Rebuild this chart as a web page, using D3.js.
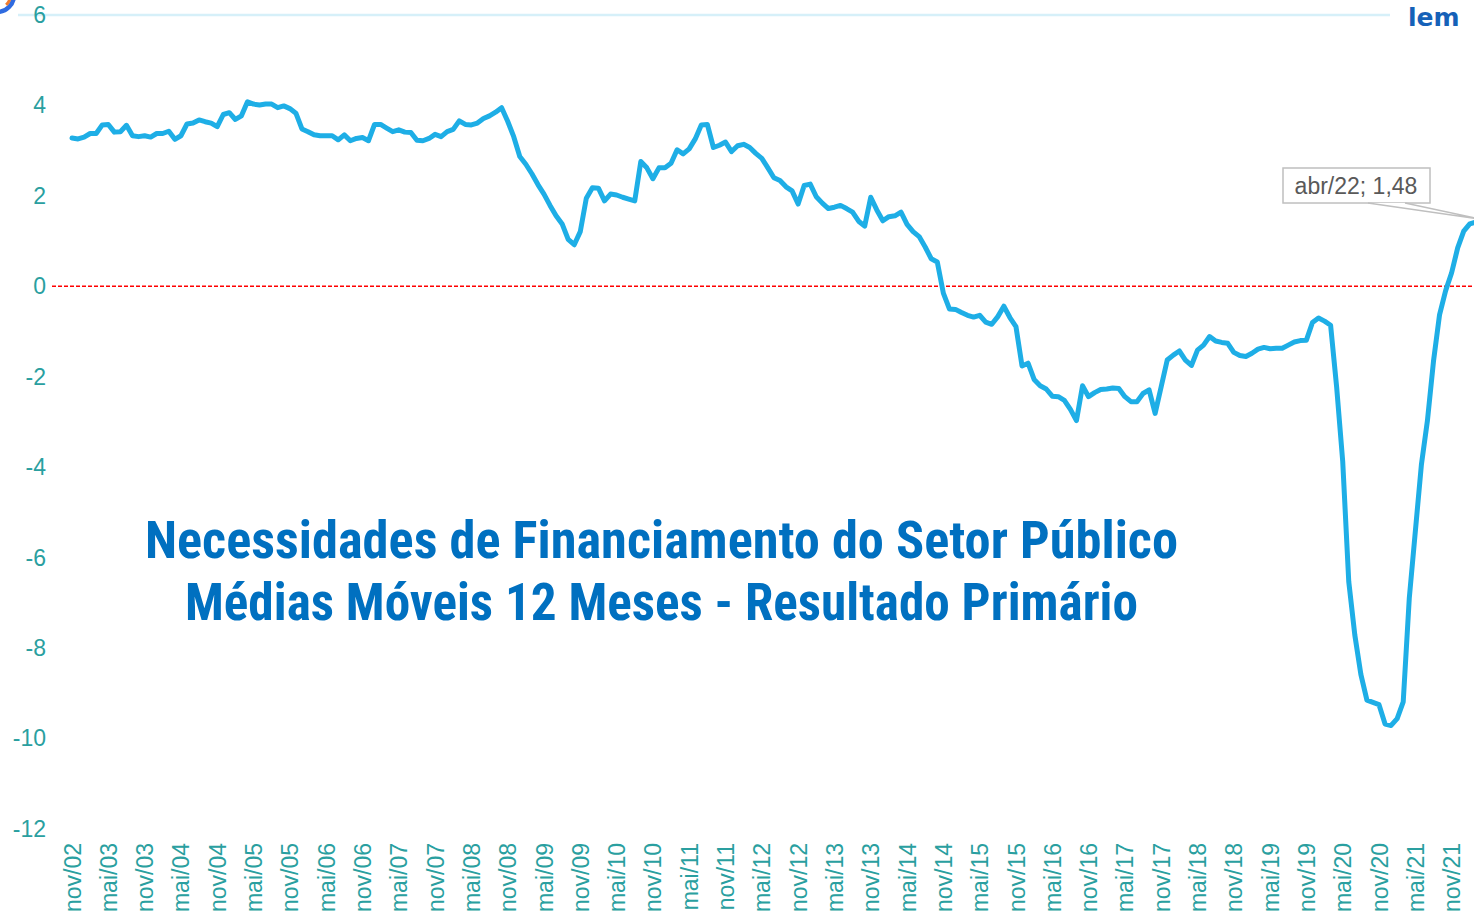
<!DOCTYPE html>
<html>
<head>
<meta charset="utf-8">
<script src="https://cdn.jsdelivr.net/npm/d3@7"></script>
<style>
  html, body { margin: 0; padding: 0; background: #fff; }
  svg { display: block; }
</style>
</head>
<body>
<div id="chart"></div>
<script>
// meses de nov/02 ate abr/22 (eixo de categorias)
const monthNames = ["jan", "fev", "mar", "abr", "mai", "jun", "jul", "ago", "set", "out", "nov", "dez"];
const categories = [];
for (let k = 0; k < 234; k++) {
    const m = (10 + k) % 12;
    const yr = 2 + Math.floor((10 + k) / 12);
    categories.push(monthNames[m] + "/" + String(yr).padStart(2, "0"));
}

// rotulos do eixo x, de 6 em 6 meses
const tickLabels = ["nov/02", "mai/03", "nov/03", "mai/04", "nov/04", "mai/05", "nov/05", "mai/06",
    "nov/06", "mai/07", "nov/07", "mai/08", "nov/08", "mai/09", "nov/09", "mai/10", "nov/10",
    "mai/11", "nov/11", "mai/12", "nov/12", "mai/13", "nov/13", "mai/14", "nov/14", "mai/15",
    "nov/15", "mai/16", "nov/16", "mai/17", "nov/17", "mai/18", "nov/18", "mai/19", "nov/19",
    "mai/20", "nov/20", "mai/21", "nov/21"];

const yTicks = [6, 4, 2, 0, -2, -4, -6, -8, -10, -12];

// resultado primario, media movel 12 meses
const primario = [
    3.28, 3.26, 3.30, 3.38, 3.38, 3.57, 3.58, 3.41, 3.42, 3.56,
    3.33, 3.31, 3.33, 3.30, 3.38, 3.38, 3.43, 3.25, 3.33, 3.59,
    3.61, 3.68, 3.64, 3.61, 3.53, 3.80, 3.84, 3.69, 3.77, 4.08,
    4.03, 4.01, 4.03, 4.03, 3.95, 3.99, 3.93, 3.83, 3.48, 3.42,
    3.35, 3.33, 3.33, 3.33, 3.24, 3.35, 3.22, 3.27, 3.29, 3.22,
    3.58, 3.58, 3.50, 3.42, 3.46, 3.41, 3.40, 3.23, 3.22, 3.27,
    3.36, 3.31, 3.42, 3.47, 3.66, 3.58, 3.57, 3.61, 3.71, 3.77,
    3.85, 3.95, 3.65, 3.31, 2.87, 2.70, 2.49, 2.25, 2.04, 1.79,
    1.56, 1.38, 1.04, 0.92, 1.21, 1.95, 2.18, 2.17, 1.89, 2.04,
    2.02, 1.97, 1.93, 1.89, 2.76, 2.62, 2.38, 2.62, 2.62, 2.72,
    3.02, 2.93, 3.04, 3.26, 3.57, 3.58, 3.07, 3.12, 3.19, 2.98,
    3.11, 3.14, 3.07, 2.94, 2.83, 2.62, 2.40, 2.34, 2.20, 2.11,
    1.82, 2.23, 2.26, 1.98, 1.84, 1.72, 1.75, 1.79, 1.72, 1.64,
    1.44, 1.33, 1.97, 1.69, 1.45, 1.54, 1.56, 1.64, 1.37, 1.21,
    1.10, 0.87, 0.61, 0.54, -0.15, -0.50, -0.51, -0.58, -0.64, -0.68,
    -0.64, -0.79, -0.84, -0.67, -0.44, -0.69, -0.89, -1.76, -1.70, -2.06,
    -2.20, -2.27, -2.43, -2.44, -2.52, -2.72, -2.97, -2.20, -2.44, -2.35,
    -2.28, -2.27, -2.25, -2.26, -2.44, -2.55, -2.55, -2.37, -2.29, -2.81,
    -2.22, -1.63, -1.52, -1.43, -1.63, -1.75, -1.41, -1.30, -1.11, -1.21,
    -1.24, -1.26, -1.46, -1.53, -1.55, -1.48, -1.39, -1.35, -1.38, -1.37,
    -1.37, -1.30, -1.23, -1.20, -1.19, -0.80, -0.70, -0.77, -0.86, -2.23,
    -3.87, -6.53, -7.71, -8.58, -9.15, -9.20, -9.25, -9.68, -9.71, -9.56,
    -9.19, -6.90, -5.42, -3.95, -2.97, -1.66, -0.63, -0.10, 0.30, 0.85,
    1.22, 1.38, 1.42, 1.48
];

const titleLines = ["Necessidades de Financiamento do Setor Público",
    "Médias Móveis 12 Meses - Resultado Primário"];

const svgWidth = 1474, svgHeight = 914;
const labelFont = "'Liberation Sans', Arial, sans-serif";
const teal = "#2a9fa0";

const svg = d3.select("#chart").append("svg")
    .attr("width", svgWidth)
    .attr("height", svgHeight);

// escalas: a serie continua alem da borda direita (recortada)
const x = d3.scalePoint()
    .domain(categories)
    .range([72, 72 + 6.051 * (categories.length - 1)]);
const y = d3.scaleLinear()
    .domain([-12, 6])
    .range([829, 15]);

// logo recortado (canto superior esquerdo e direito)
svg.append("circle")
    .attr("cx", -3).attr("cy", -5).attr("r", 17)
    .attr("fill", "none")
    .attr("stroke", "#2f6be0")
    .attr("stroke-width", 4.5);
svg.append("path")
    .attr("d", d3.arc()({ innerRadius: 12, outerRadius: 15, startAngle: 1.75, endAngle: 2.4 }))
    .attr("transform", "translate(-3,-5)")
    .attr("fill", "#f07d2e");
svg.append("text")
    .attr("x", 1408).attr("y", 26)
    .style("font-family", "'DejaVu Sans', sans-serif")
    .style("font-weight", "bold")
    .style("font-size", "25px")
    .style("fill", "#1561b8")
    .text("lem");

// linha de grade no topo
svg.append("line")
    .attr("x1", 18).attr("x2", 1390)
    .attr("y1", y(6)).attr("y2", y(6))
    .attr("stroke", "#d6f0f9")
    .attr("stroke-width", 2.5);

// eixo y (hifen simples como no original)
const yAxis = svg.append("g")
    .attr("transform", "translate(50,0)")
    .call(d3.axisLeft(y).tickValues(yTicks).tickSize(0).tickPadding(4).tickFormat(d => String(d)));
yAxis.select(".domain").remove();
yAxis.selectAll("text")
    .style("font-family", labelFont)
    .style("font-size", "23px")
    .style("fill", teal);

// eixo x com rotulos verticais
const xAxis = svg.append("g")
    .attr("transform", "translate(0,843)")
    .call(d3.axisBottom(x).tickValues(tickLabels).tickSize(0).tickPadding(0));
xAxis.select(".domain").remove();
xAxis.selectAll("text")
    .attr("x", 0)
    .attr("y", 0)
    .attr("dy", "0.35em")
    .attr("transform", "rotate(-90)")
    .style("text-anchor", "end")
    .style("font-family", labelFont)
    .style("font-size", "23px")
    .style("fill", teal);

// linha do zero tracejada
svg.append("line")
    .attr("x1", 52).attr("x2", svgWidth)
    .attr("y1", y(0)).attr("y2", y(0))
    .attr("stroke", "#ff0000")
    .attr("stroke-width", 1.5)
    .attr("stroke-dasharray", "4 2");

// serie
const line = d3.line()
    .x((d, i) => x(categories[i]))
    .y(d => y(d));
svg.append("path")
    .datum(primario)
    .attr("d", line)
    .attr("fill", "none")
    .attr("stroke", "#1eaee6")
    .attr("stroke-width", 5)
    .attr("stroke-linejoin", "round")
    .attr("stroke-linecap", "round");

// titulo
const title = svg.append("g")
    .style("font-family", "'Liberation Sans Narrow', 'Arial Narrow', 'Roboto Condensed', 'Liberation Sans', sans-serif")
    .style("font-weight", "bold")
    .style("font-size", "51px")
    .style("fill", "#0070c0");
title.append("text")
    .attr("x", 145).attr("y", 558)
    .attr("textLength", 1033)
    .attr("lengthAdjust", "spacingAndGlyphs")
    .text(titleLines[0]);
title.append("text")
    .attr("x", 185).attr("y", 620)
    .attr("textLength", 953)
    .attr("lengthAdjust", "spacingAndGlyphs")
    .text(titleLines[1]);

// rotulo do ultimo ponto
const last = primario.length - 1;
const px = x(categories[last]), py = y(primario[last]);
const callout = svg.append("g");
callout.append("rect")
    .attr("x", 1283).attr("y", 168)
    .attr("width", 147).attr("height", 35)
    .attr("fill", "#fff")
    .attr("stroke", "#bfbfbf")
    .attr("stroke-width", 1.5);
callout.append("path")
    .attr("d", `M1368,203 L${px},${py} L1405,203`)
    .attr("fill", "#fff")
    .attr("stroke", "#bfbfbf")
    .attr("stroke-width", 1.5);
callout.append("text")
    .attr("x", 1356).attr("y", 194)
    .style("text-anchor", "middle")
    .style("font-family", labelFont)
    .style("font-size", "23px")
    .style("fill", "#595959")
    .text(categories[last] + "; " + String(primario[last]).replace(".", ","));
</script>
</body>
</html>
